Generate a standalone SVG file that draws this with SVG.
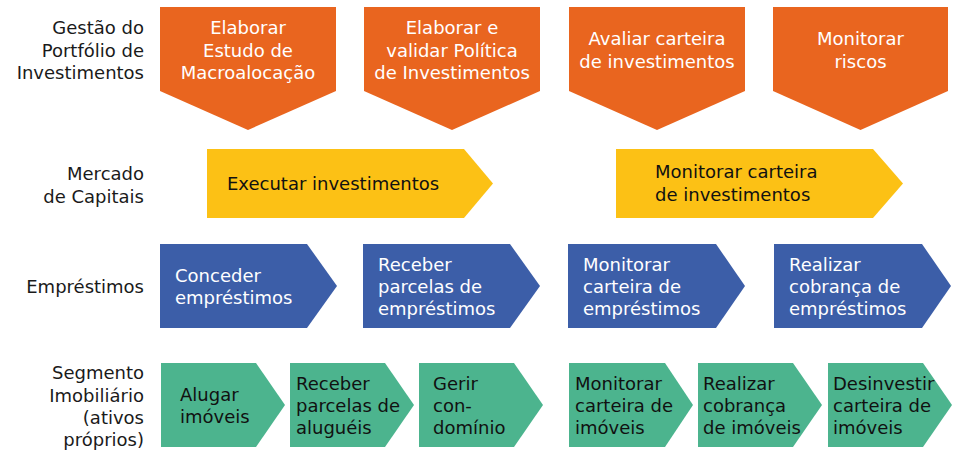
<svg xmlns="http://www.w3.org/2000/svg" width="955" height="450" viewBox="0 0 955 450">
<style>
text{font-family:"DejaVu Sans","Open Sans",sans-serif;font-size:18px}
.lbl{fill:#1a1a1a;text-anchor:end}
.o{fill:#E9651F}
.y{fill:#FCC115}
.b{fill:#3C5EA8}
.g{fill:#4CB48E}
.wt{fill:#ffffff;text-anchor:middle}
.wl{fill:#ffffff}
.k{fill:#111111}
</style>
<rect width="955" height="450" fill="#ffffff"/>
<g id="row-labels">
<text class="lbl" x="144" y="34">Gestão do</text>
<text class="lbl" x="144" y="56.5">Portfólio de</text>
<text class="lbl" x="144" y="79">Investimentos</text>
<text class="lbl" x="144" y="180">Mercado</text>
<text class="lbl" x="144" y="203">de Capitais</text>
<text class="lbl" x="144" y="293">Empréstimos</text>
<text class="lbl" x="144" y="379">Segmento</text>
<text class="lbl" x="144" y="401.5">Imobiliário</text>
<text class="lbl" x="144" y="424">(ativos</text>
<text class="lbl" x="144" y="446">próprios)</text>
</g>
<g id="connectors"></g>
<g id="n-macro"><polygon class="o" points="160,7 336,7 336,91 248,130 160,91"/>
<text class="wt" x="248" y="34">Elaborar</text><text class="wt" x="248" y="56.5">Estudo de</text><text class="wt" x="248" y="79">Macroalocação</text></g>
<g id="n-politica"><polygon class="o" points="364,7 540,7 540,91 452,130 364,91"/>
<text class="wt" x="452" y="34">Elaborar e</text><text class="wt" x="452" y="56.5">validar Política</text><text class="wt" x="452" y="79">de Investimentos</text></g>
<g id="n-avaliar"><polygon class="o" points="569,7 745,7 745,91 657,130 569,91"/>
<text class="wt" x="657" y="45">Avaliar carteira</text><text class="wt" x="657" y="67.5">de investimentos</text></g>
<g id="n-riscos"><polygon class="o" points="773,7 948,7 948,91 860.5,130 773,91"/>
<text class="wt" x="860.5" y="45">Monitorar</text><text class="wt" x="860.5" y="67.5">riscos</text></g>

<g id="n-executar"><polygon class="y" points="207,149 464,149 493,183.5 464,218 207,218"/>
<text class="k" x="227" y="190">Executar investimentos</text></g>
<g id="n-monit-inv"><polygon class="y" points="616,149 873,149 903,183.5 873,218 616,218"/>
<text class="k" x="655" y="178">Monitorar carteira</text><text class="k" x="655" y="201">de investimentos</text></g>

<g id="n-conceder"><polygon class="b" points="160,244 307,244 337,286 307,328 160,328"/>
<text class="wl" x="175" y="282">Conceder</text><text class="wl" x="175" y="304">empréstimos</text></g>
<g id="n-receber-emp"><polygon class="b" points="363,244 510,244 540,286 510,328 363,328"/>
<text class="wl" x="378" y="271">Receber</text><text class="wl" x="378" y="293">parcelas de</text><text class="wl" x="378" y="315">empréstimos</text></g>
<g id="n-monit-emp"><polygon class="b" points="568,244 716,244 745,286 716,328 568,328"/>
<text class="wl" x="583" y="271">Monitorar</text><text class="wl" x="583" y="293">carteira de</text><text class="wl" x="583" y="315">empréstimos</text></g>
<g id="n-cobranca-emp"><polygon class="b" points="774,244 922,244 951,286 922,328 774,328"/>
<text class="wl" x="789" y="271">Realizar</text><text class="wl" x="789" y="293">cobrança de</text><text class="wl" x="789" y="315">empréstimos</text></g>

<g id="n-alugar"><polygon class="g" points="161,363 256,363 285,405 256,447 161,447"/>
<text class="k" x="180" y="401">Alugar</text><text class="k" x="180" y="423">imóveis</text></g>
<g id="n-receber-alug"><polygon class="g" points="290,363 385,363 414,405 385,447 290,447"/>
<text class="k" x="296" y="390">Receber</text><text class="k" x="296" y="412">parcelas de</text><text class="k" x="296" y="434">aluguéis</text></g>
<g id="n-gerir"><polygon class="g" points="419,363 514,363 543,405 514,447 419,447"/>
<text class="k" x="433" y="390">Gerir</text><text class="k" x="433" y="412">con-</text><text class="k" x="433" y="434">domínio</text></g>
<g id="n-monit-imov"><polygon class="g" points="569,363 665,363 693,405 665,447 569,447"/>
<text class="k" x="575" y="390">Monitorar</text><text class="k" x="575" y="412">carteira de</text><text class="k" x="575" y="434">imóveis</text></g>
<g id="n-cobranca-imov"><polygon class="g" points="698,363 793,363 822,405 793,447 698,447"/>
<text class="k" x="703" y="390">Realizar</text><text class="k" x="703" y="412">cobrança</text><text class="k" x="703" y="434">de imóveis</text></g>
<g id="n-desinvestir"><polygon class="g" points="828,363 923,363 952,405 923,447 828,447"/>
<text class="k" x="833" y="390">Desinvestir</text><text class="k" x="833" y="412">carteira de</text><text class="k" x="833" y="434">imóveis</text></g>
</svg>
